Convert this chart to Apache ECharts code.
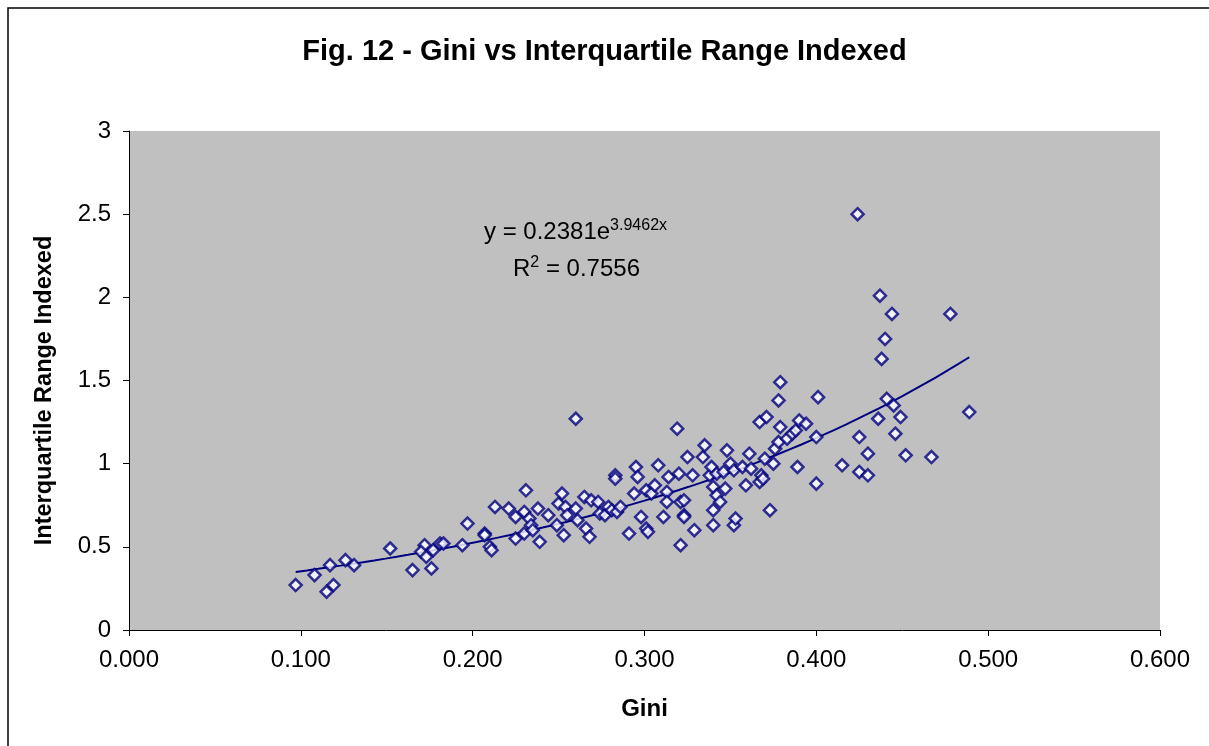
<!DOCTYPE html>
<html>
<head>
<meta charset="utf-8">
<title>Fig. 12 - Gini vs Interquartile Range Indexed</title>
<script src="https://cdn.jsdelivr.net/npm/echarts@6/dist/echarts.min.js"></script>
<style>
  html, body { margin: 0; padding: 0; background: #fff; }
  #chart { width: 1209px; height: 746px; }
</style>
</head>
<body>
<div id="chart"></div>
<script>
  // values
  const giniValues = [
    0.097, 0.108, 0.117, 0.115, 0.119, 0.126, 0.131, 0.152, 0.165, 0.172,
    0.170, 0.173, 0.176, 0.177, 0.181, 0.183, 0.194, 0.197, 0.207, 0.207,
    0.210, 0.211, 0.213, 0.221, 0.225, 0.225, 0.230, 0.230, 0.231, 0.233,
    0.234, 0.235, 0.238, 0.239, 0.244, 0.249, 0.250, 0.252, 0.253, 0.254,
    0.255, 0.260, 0.260, 0.261, 0.265, 0.266, 0.268, 0.269, 0.273, 0.274,
    0.277, 0.279, 0.281, 0.284, 0.286, 0.283, 0.283, 0.291, 0.294, 0.295,
    0.296, 0.298, 0.301, 0.301, 0.302, 0.304, 0.306, 0.308, 0.311, 0.313,
    0.313, 0.314, 0.319, 0.320, 0.321, 0.323, 0.323, 0.323, 0.321, 0.325,
    0.328, 0.329, 0.334, 0.335, 0.338, 0.339, 0.340, 0.340, 0.340, 0.342,
    0.342, 0.344, 0.346, 0.347, 0.348, 0.350, 0.352, 0.352, 0.353, 0.357,
    0.359, 0.361, 0.362, 0.367, 0.367, 0.368, 0.369, 0.370, 0.371, 0.373,
    0.375, 0.376, 0.378, 0.378, 0.379, 0.379, 0.383, 0.386, 0.388, 0.389,
    0.390, 0.394, 0.400, 0.400, 0.401, 0.415, 0.424, 0.425, 0.425, 0.430,
    0.430, 0.436, 0.437, 0.438, 0.440, 0.441, 0.444, 0.445, 0.446, 0.449,
    0.452, 0.467, 0.478, 0.489
  ]
  const iqrIndexed = [
    0.27, 0.33, 0.39, 0.23, 0.27, 0.42, 0.39, 0.49, 0.36, 0.51,
    0.47, 0.44, 0.37, 0.48, 0.52, 0.52, 0.51, 0.64, 0.58, 0.57,
    0.50, 0.48, 0.74, 0.73, 0.68, 0.55, 0.71, 0.58, 0.84, 0.67,
    0.63, 0.60, 0.73, 0.53, 0.69, 0.63, 0.76, 0.82, 0.57, 0.74,
    0.69, 0.73, 1.27, 0.66, 0.80, 0.61, 0.56, 0.78, 0.77, 0.70,
    0.69, 0.74, 0.72, 0.71, 0.74, 0.93, 0.91, 0.58, 0.82, 0.98,
    0.92, 0.68, 0.84, 0.61, 0.59, 0.82, 0.87, 0.99, 0.68, 0.83,
    0.77, 0.92, 1.21, 0.94, 0.77, 0.78, 0.69, 0.68, 0.51, 1.04,
    0.93, 0.60, 1.04, 1.11, 0.93, 0.98, 0.86, 0.72, 0.63, 0.94,
    0.81, 0.77, 0.95, 0.85, 1.08, 1.00, 0.96, 0.63, 0.67, 0.98,
    0.87, 1.06, 0.97, 1.25, 0.89, 0.93, 0.91, 1.03, 1.28, 0.72,
    1.00, 1.09, 1.13, 1.38, 1.49, 1.22, 1.15, 1.18, 1.20, 0.98,
    1.26, 1.24, 1.16, 0.88, 1.40, 0.99, 2.50, 1.16, 0.95, 1.06,
    0.93, 1.27, 2.01, 1.63, 1.75, 1.39, 1.90, 1.35, 1.18, 1.28,
    1.05, 1.04, 1.90, 1.31
  ]
  const xTicks = [0, 0.1, 0.2, 0.3, 0.4, 0.5, 0.6]
  const yTicks = [0, 0.5, 1, 1.5, 2, 2.5, 3]

  // exponential trendline as printed on the chart
  const trendA = 0.2381
  const trendB = 3.9462
  const trendR2 = '0.7556'

  const NAVY = '#000080'
  const FONT = '"Liberation Sans", Arial, sans-serif'

  const points = giniValues.map((g, i) => [g, iqrIndexed[i]])
  const xMin = Math.min(...giniValues)
  const xMax = Math.max(...giniValues)
  const trend = []
  for (let i = 0; i <= 60; i++) {
    const x = xMin + (xMax - xMin) * i / 60
    trend.push([x, trendA * Math.exp(trendB * x)])
  }

  const chart = echarts.init(document.getElementById('chart'))
  chart.setOption({
    animation: false,
    textStyle: { fontFamily: FONT },
    title: {
      text: 'Fig. 12 - Gini vs Interquartile Range Indexed',
      left: 'center',
      top: 32,
      textStyle: { fontSize: 29, fontWeight: 'bold', color: '#000', fontFamily: FONT }
    },
    grid: {
      left: 129, top: 131, width: 1031, height: 499,
      show: true, backgroundColor: '#c0c0c0', borderWidth: 0
    },
    xAxis: {
      type: 'value',
      min: xTicks[0], max: xTicks[xTicks.length - 1], interval: 0.1,
      name: 'Gini',
      nameLocation: 'middle',
      nameGap: 67,
      nameTextStyle: { fontSize: 24, fontWeight: 'bold', color: '#000', fontFamily: FONT },
      axisLine: { lineStyle: { color: '#000', width: 1 } },
      axisTick: { show: true, inside: false, length: 6, lineStyle: { color: '#000' } },
      axisLabel: {
        fontSize: 24, color: '#000', margin: 18, fontFamily: FONT,
        formatter: v => v.toFixed(3)
      },
      splitLine: { show: false }
    },
    yAxis: {
      type: 'value',
      min: yTicks[0], max: yTicks[yTicks.length - 1], interval: 0.5,
      name: 'Interquartile Range Indexed',
      nameLocation: 'middle',
      nameGap: 72,
      nameTextStyle: {
        fontSize: 23.5, fontWeight: 'bold', color: '#000', fontFamily: FONT,
        padding: [0, 20, 0, 0]
      },
      axisLine: { show: true, lineStyle: { color: '#000', width: 1 } },
      axisTick: { show: true, inside: false, length: 6, lineStyle: { color: '#000' } },
      axisLabel: { fontSize: 24, color: '#000', margin: 18, fontFamily: FONT },
      splitLine: { show: false }
    },
    series: [
      {
        type: 'scatter',
        data: points,
        symbol: 'diamond',
        symbolSize: 12,
        itemStyle: { color: '#fff', borderColor: NAVY, borderWidth: 2.5 },
        z: 3
      },
      {
        type: 'line',
        data: trend,
        showSymbol: false,
        smooth: false,
        lineStyle: { color: NAVY, width: 2 },
        z: 2
      }
    ],
    graphic: [
      {
        type: 'rect',
        shape: { x: 8, y: 8, width: 1400, height: 900 },
        style: { fill: null, stroke: '#000', lineWidth: 1.5 },
        silent: true
      },
      {
        type: 'text',
        left: 484, top: 218,
        style: {
          text: '{b|y = 0.2381e}{s|' + trendB + 'x}',
          rich: {
            b: { fontSize: 24, fontFamily: FONT, fill: '#000', lineHeight: 30 },
            s: { fontSize: 16, fontFamily: FONT, fill: '#000', lineHeight: 30, padding: [0, 0, 12, 0] }
          }
        },
        z: 10
      },
      {
        type: 'text',
        left: 513, top: 255,
        style: {
          text: '{b|R}{s|2}{b| = ' + trendR2 + '}',
          rich: {
            b: { fontSize: 24, fontFamily: FONT, fill: '#000', lineHeight: 30 },
            s: { fontSize: 16, fontFamily: FONT, fill: '#000', lineHeight: 30, padding: [0, 0, 12, 0] }
          }
        },
        z: 10
      }
    ]
  })
</script>
</body>
</html>
